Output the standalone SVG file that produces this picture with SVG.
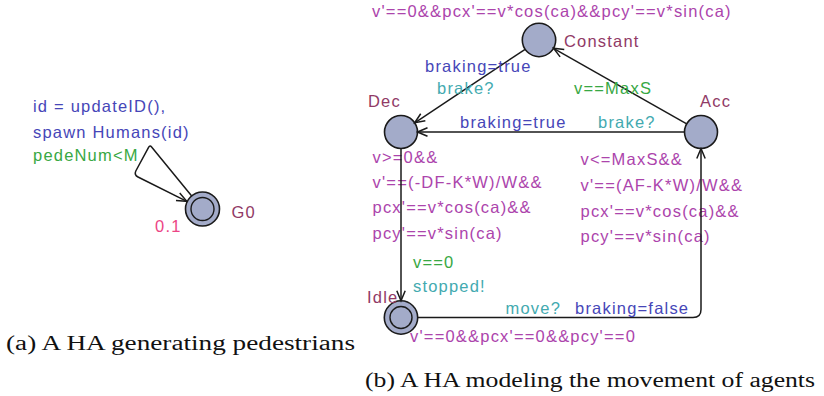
<svg xmlns="http://www.w3.org/2000/svg" width="824" height="396" viewBox="0 0 824 396">
  <style>
    .loc { fill: #a3abc9; stroke: #1a1a1a; stroke-width: 1.6; }
    .inner { fill: none; stroke: #1a1a1a; stroke-width: 1.4; }
    .edge { fill: none; stroke: #1a1a1a; stroke-width: 1.5; stroke-linejoin: round; marker-end: url(#arrow); }
    .lbl { font-family: "Liberation Sans", Arial, sans-serif; font-size: 16.5px; letter-spacing: 1.2px; }
    .name { fill: #913a66; }
    .guard { fill: #38a843; }
    .sync { fill: #43aab0; }
    .upd { fill: #4646b8; }
    .inv { fill: #ac44ac; }
    .rate { fill: #ec4585; }
    .cap { font-family: "Liberation Serif", "Times New Roman", serif; font-size: 20.5px; fill: #111; }
  </style>
  <defs>
    <marker id="arrow" viewBox="-12 -6 14 12" markerWidth="14" markerHeight="12" refX="0" refY="0" orient="auto" markerUnits="userSpaceOnUse">
      <path d="M-10,-4.2 L0,0 L-10,4.2" fill="none" stroke="#1a1a1a" stroke-width="1.5"/>
    </marker>
  </defs>

  <rect width="824" height="396" fill="#ffffff"/>

  <!-- (a) pedestrian generator -->
  <g id="G0">
    <circle class="loc" cx="202.5" cy="209" r="17"/>
    <circle class="inner" cx="202.5" cy="209" r="11.5"/>
    <text class="lbl name" x="231.5" y="218.3">G0</text>
    <text class="lbl rate" x="155" y="231.7">0.1</text>
  </g>

  <!-- (b) agent movement -->
  <g id="Constant">
    <circle class="loc" cx="539" cy="40" r="16.7"/>
    <text class="lbl name" x="564" y="47.3">Constant</text>
    <text class="lbl inv" x="372" y="16.5">v'==0&amp;&amp;pcx'==v*cos(ca)&amp;&amp;pcy'==v*sin(ca)</text>
  </g>

  <g id="Dec">
    <circle class="loc" cx="401" cy="132" r="16.5"/>
    <text class="lbl name" x="368" y="106.7">Dec</text>
    <text class="lbl inv" x="372.5" y="162.7">v&gt;=0&amp;&amp;</text>
    <text class="lbl inv" x="372.5" y="188">v'==(-DF-K*W)/W&amp;&amp;</text>
    <text class="lbl inv" x="372.5" y="213.3">pcx'==v*cos(ca)&amp;&amp;</text>
    <text class="lbl inv" x="372.5" y="238.5">pcy'==v*sin(ca)</text>
  </g>

  <g id="Acc">
    <circle class="loc" cx="701" cy="132" r="16.5"/>
    <text class="lbl name" x="700" y="106.7">Acc</text>
    <text class="lbl inv" x="580.5" y="165">v&lt;=MaxS&amp;&amp;</text>
    <text class="lbl inv" x="580.5" y="190.5">v'==(AF-K*W)/W&amp;&amp;</text>
    <text class="lbl inv" x="580.5" y="216.5">pcx'==v*cos(ca)&amp;&amp;</text>
    <text class="lbl inv" x="580.5" y="241.7">pcy'==v*sin(ca)</text>
  </g>

  <g id="Idle">
    <circle class="loc" cx="401" cy="317.5" r="16.7"/>
    <circle class="inner" cx="401" cy="317.5" r="11"/>
    <text class="lbl name" x="367" y="302.7">Idle</text>
    <text class="lbl inv" x="410" y="341.7">v'==0&amp;&amp;pcx'==0&amp;&amp;pcy'==0</text>
  </g>

  <g id="connectors">
    <!-- G0 self-loop -->
    <path class="edge" d="M191.7,195.9 L151.6,147 Q150,145 148.7,147.2 L135.8,171 Q134,175 138,177 L186.8,201.3"/>
    <text class="lbl upd" x="33" y="111.7">id = updateID(),</text>
    <text class="lbl upd" x="33" y="138.3">spawn Humans(id)</text>
    <text class="lbl guard" x="33" y="161">pedeNum&lt;M</text>

    <!-- Constant -> Dec -->
    <path class="edge" d="M525.1,49.3 L414.7,122.8"/>
    <text class="lbl upd" x="425" y="71.7">braking=true</text>
    <text class="lbl sync" x="437" y="94">brake?</text>

    <!-- Acc -> Constant -->
    <path class="edge" d="M686.7,123.8 L553.5,48.3"/>
    <text class="lbl guard" x="574" y="93.5">v==MaxS</text>

    <!-- Acc -> Dec -->
    <path class="edge" d="M684.5,132 L417.5,132"/>
    <text class="lbl upd" x="460" y="128.3">braking=true</text>
    <text class="lbl sync" x="598" y="128.3">brake?</text>

    <!-- Dec -> Idle -->
    <path class="edge" d="M401,148.5 L401,300.8"/>
    <text class="lbl guard" x="413" y="268.3">v==0</text>
    <text class="lbl sync" x="413" y="291.7">stopped!</text>

    <!-- Idle -> Acc -->
    <path class="edge" d="M417.7,317.5 L693,317.5 Q701,317.5 701,309.5 L701,148.5"/>
    <text class="lbl sync" x="505.5" y="314">move?</text>
    <text class="lbl upd" x="575" y="314">braking=false</text>
  </g>

  <!-- captions -->
  <text class="cap" x="6" y="350" textLength="349" lengthAdjust="spacingAndGlyphs">(a) A HA generating pedestrians</text>
  <text class="cap" x="365" y="386.7" textLength="450" lengthAdjust="spacingAndGlyphs">(b) A HA modeling the movement of agents</text>
</svg>
